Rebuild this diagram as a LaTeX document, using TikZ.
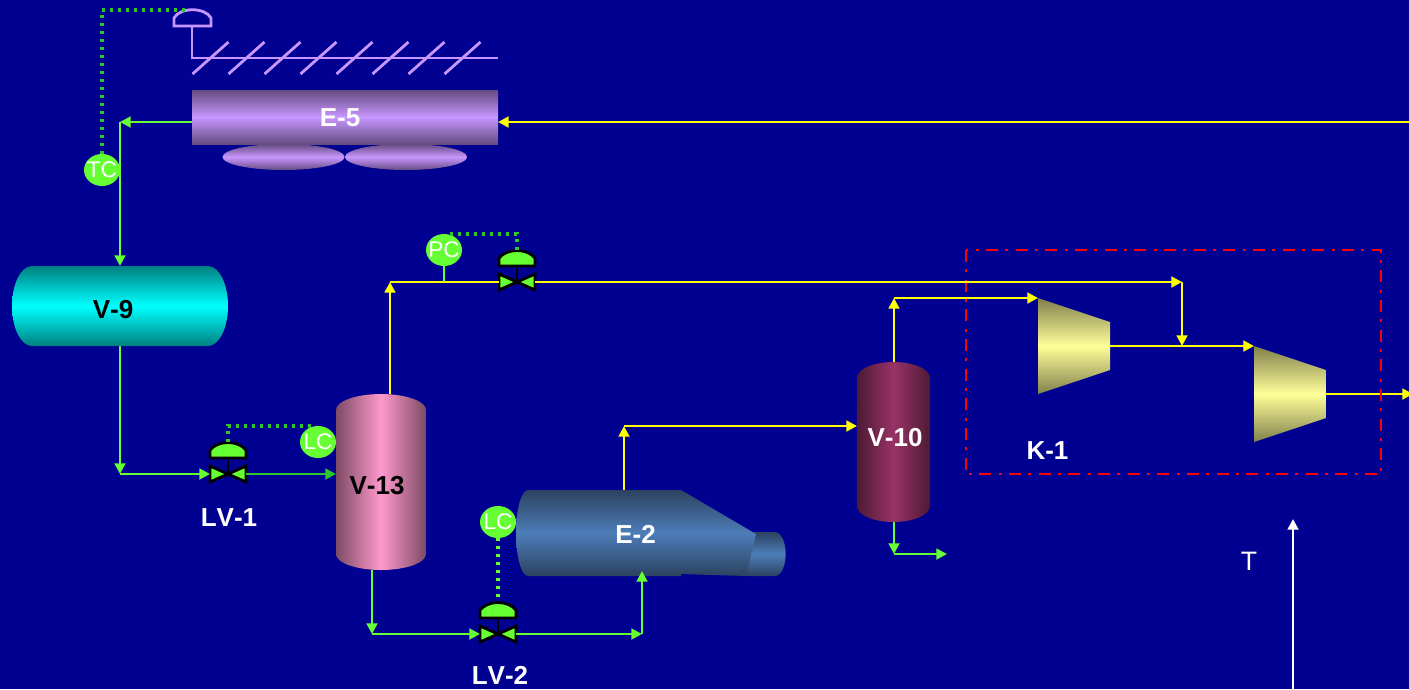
\documentclass[tikz,border=0pt]{standalone}
\usepackage{fontspec}
\setmainfont[Kerning=Off]{Liberation Sans}
\usetikzlibrary{arrows.meta,shapes.geometric}
\definecolor{Fondo}{RGB}{0, 0, 145}
\definecolor{Lgreen}{RGB}{102, 255, 51}
\definecolor{Dgreen}{RGB}{45, 200, 45}
\definecolor{Lyellow}{RGB}{255, 255, 0}
\definecolor{Lila}{RGB}{200, 150, 255}
\definecolor{LilaD}{RGB}{100, 75, 128}
\definecolor{Rosa}{RGB}{255, 153, 204}
\definecolor{RosaD}{RGB}{125, 75, 100}
\definecolor{Vino}{RGB}{153, 51, 102}
\definecolor{VinoD}{RGB}{77, 26, 51}
\definecolor{Azul}{RGB}{77, 125, 184}
\definecolor{AzulD}{RGB}{44, 66, 96}
\definecolor{Crema}{RGB}{255, 255, 153}
\definecolor{CremaD}{RGB}{128, 128, 77}
\tikzset{
  yline/.style={draw=Lyellow, line width=2.2pt},
  gline/.style={draw=Lgreen, line width=2.2pt},
  tipline/.style={-{Triangle[length=8pt,width=8pt]}},
  signal/.style={draw=#1, line width=2.4pt, dash pattern=on 1.9pt off 4.1pt},
  instr/.style={ellipse, fill=Lgreen, text=white, font=\fontsize{17}{17}\selectfont, inner sep=0pt, minimum width=27pt, minimum height=24pt},
  tag/.style={text=white, font=\bfseries\fontsize{19.5}{19.5}\selectfont},
  valve/.pic={
    \fill[Lgreen] (-18,-8) -- (0,0) -- (-18,8) -- cycle;
    \fill[Lgreen] (18,-8) -- (0,0) -- (18,8) -- cycle;
    \draw[line width=2.1pt] (-18,-8) -- (18,8) -- (18,-8) -- (-18,8) -- cycle;
    \draw[line width=2.1pt] (0,0) -- (0,-16);
    \draw[line width=2.1pt, fill=Lgreen] (-18,-16) -- (-18,-24) .. controls (-10,-34) and (10,-34) .. (18,-24) -- (18,-16) -- cycle;
    \coordinate (-west) at (-18,0);
    \coordinate (-east) at (18,0);
    \coordinate (-top) at (0,-32);
  }
}
\begin{document}
\begin{tikzpicture}[x=0.75pt, y=-0.75pt]
  \useasboundingbox (0,0) rectangle (1409,689);
  \fill[Fondo] (0,0) rectangle (1409,689);

  %Puntos de conexion
  \coordinate (E5w) at (192,122);
  \coordinate (E5e) at (498,122);
  \coordinate (E5in) at (1409,122);
  \coordinate (E5c) at (120,122);
  \coordinate (V9t) at (120,266);
  \coordinate (V9b) at (120,346);
  \coordinate (V9c) at (120,474);
  \coordinate (V13w) at (336,474);
  \coordinate (V13t) at (390,394);
  \coordinate (V13c) at (390,282);
  \coordinate (V13b) at (372,570);
  \coordinate (V13d) at (372,634);
  \coordinate (E2c) at (642,634);
  \coordinate (E2b) at (642,571);
  \coordinate (E2t) at (624,490);
  \coordinate (E2d) at (624,426);
  \coordinate (V10w) at (857,426);
  \coordinate (V10t) at (894,362);
  \coordinate (V10c) at (894,298);
  \coordinate (V10b) at (894,522);
  \coordinate (V10d) at (894,554);
  \coordinate (V10e) at (947,554);
  \coordinate (K1a) at (1038,298);
  \coordinate (K1b) at (1110,346);
  \coordinate (K1c) at (1254,346);
  \coordinate (K1d) at (1326,394);
  \coordinate (K1e) at (1413,394);
  \coordinate (K1f) at (1182,282);
  \coordinate (K1g) at (1182,346);
  \coordinate (Ta) at (1293,689);
  \coordinate (Tb) at (1293,519);

  %Lineas amarillas
  \draw[yline, tipline] (E5in) -- (E5e);
  \draw[yline, tipline] (V13t) -- (V13c);
  \draw[yline, tipline] (E2t) -- (E2d);
  \draw[yline, tipline] (E2d) -- (V10w);
  \draw[yline, tipline] (V10t) -- (V10c);
  \draw[yline, tipline] (V10c) -- (K1a);
  \draw[yline, tipline] (K1b) -- (K1c);
  \draw[yline, tipline] (K1d) -- (K1e);
  \draw[yline, tipline] (K1f) -- (K1g);

  %Lineas verdes
  \draw[gline, tipline] (E5w) -- (E5c);
  \draw[gline, tipline] (E5c) -- (V9t);
  \draw[gline, tipline] (V9b) -- (V9c);
  \draw[gline, tipline] (V13b) -- (V13d);
  \draw[gline, tipline] (V10b) -- (V10d);
  \draw[gline, tipline] (V10d) -- (V10e);

  %Aero E-5
  \shade[top color=LilaD, bottom color=LilaD, middle color=Lila] (192,90) rectangle (498,144);
  \shade[top color=LilaD, bottom color=LilaD, middle color=Lila] (283.5,157) ellipse (45.75pt and 9.75pt);
  \shade[top color=LilaD, bottom color=LilaD, middle color=Lila] (406,157) ellipse (45.75pt and 9.75pt);
  \node[tag] (E5) at (340,118) {E-5};

  %Persianas
  \draw[Lila, line width=2.1pt] (174,26) -- (174,18) .. controls (180,7) and (205,7) .. (211,18) -- (211,26) -- cycle;
  \draw[Lila, line width=2.1pt] (192,26) -- (192,58) -- (498,58);
  \foreach \i in {0,...,7}
    \draw[Lila, line width=2.1pt] (192.5+36*\i,74) -- (228.5+36*\i,42);

  %Tanque V-9
  \shade[top color=black!50!cyan, bottom color=black!50!cyan, middle color=cyan] (32,266) -- (208,266) arc[start angle=90, end angle=-90, x radius=15pt, y radius=30pt] -- (32,346) arc[start angle=270, end angle=90, x radius=15pt, y radius=30pt] -- cycle;
  \node[font=\bfseries\fontsize{19.5}{19.5}\selectfont] (V9) at (113,310) {V-9};

  %Tanque V-13
  \shade[left color=RosaD, right color=RosaD, middle color=Rosa] (336,410) arc[start angle=180, end angle=0, x radius=33.75pt, y radius=12pt] -- (426,554) arc[start angle=0, end angle=-180, x radius=33.75pt, y radius=12pt] -- cycle;
  \node[font=\bfseries\fontsize{19.5}{19.5}\selectfont] (V13) at (377,486) {V-13};

  %Tanque V-10
  \shade[left color=VinoD, right color=VinoD, middle color=Vino] (857,378) arc[start angle=180, end angle=0, x radius=27.4pt, y radius=12pt] -- (930,506) arc[start angle=0, end angle=-180, x radius=27.4pt, y radius=12pt] -- cycle;
  \node[tag] (V10) at (895,438) {V-10};

  %Rehervidor E-2
  \shade[top color=AzulD, bottom color=AzulD, middle color=Azul] (752,532) -- (775,532) arc[start angle=90, end angle=-90, x radius=8pt, y radius=16.5pt] -- (746,576) -- cycle;
  \shade[top color=AzulD, bottom color=AzulD, middle color=Azul] (528,490) -- (681,490) -- (756,534) -- (746,576) -- (681,574) -- (681,576) -- (528,576) arc[start angle=270, end angle=90, x radius=9pt, y radius=32.25pt] -- cycle;
  \node[tag] (E2) at (635.5,534) {E-2};
  \draw[gline, tipline] (E2c) -- (E2b);

  %Compresores K-1
  \shade[top color=CremaD, bottom color=CremaD, middle color=Crema] (1038,298) -- (1110,322) -- (1110,370) -- (1038,394) -- cycle;
  \shade[top color=CremaD, bottom color=CremaD, middle color=Crema] (1254,346) -- (1326,370) -- (1326,418) -- (1254,442) -- cycle;
  \node[tag] (K1) at (1047.5,451) {K-1};

  %Recuadro K-1
  \draw[red, line width=1.8pt, dash pattern=on 9pt off 5.5pt on 2.25pt off 5.5pt] (966,250) rectangle (1381,474);

  %Valvulas
  \pic (lv1) at (228,474) {valve};
  \pic (lv2) at (498,634) {valve};
  \pic (pv) at (517,282) {valve};
  \draw[gline, tipline] (V9c) -- (lv1-west);
  \draw[draw=Dgreen, line width=2.2pt, tipline] (lv1-east) -- (V13w);
  \draw[gline, tipline] (V13d) -- (lv2-west);
  \draw[gline, tipline] (lv2-east) -- (E2c);
  \draw[yline] (V13c) -- (pv-west);
  \draw[yline, tipline] (pv-east) -- (K1f);
  \node[tag] (LV1) at (229,518) {LV-1};
  \node[tag] (LV2) at (500,675.5) {LV-2};

  %Instrumentos
  \node[instr] (TC) at (102,170) {\makebox[0pt]{TC}};
  \node[instr] (LCa) at (318,442) {\makebox[0pt]{LC}};
  \node[instr] (LCb) at (498,522) {\makebox[0pt]{LC}};
  \node[instr] (PC) at (444,250) {\makebox[0pt]{PC}};
  \draw[gline] (PC) -- (444,282);
  \draw[signal=Dgreen] (TC.north) -- (102,10) -- (186,10);
  \draw[signal=Dgreen] (lv1-top) -- (228,426) -- (312,426);
  \draw[signal=Dgreen] (pv-top) -- (517,234) -- (448,234);
  \draw[signal=Lgreen] (LCb.south) -- (lv2-top);

  %Linea T
  \draw[white, line width=2.2pt, tipline] (Ta) -- (Tb);
  \node[text=white, font=\fontsize{20}{20}\selectfont] (T) at (1249,561) {T};
\end{tikzpicture}
\end{document}
